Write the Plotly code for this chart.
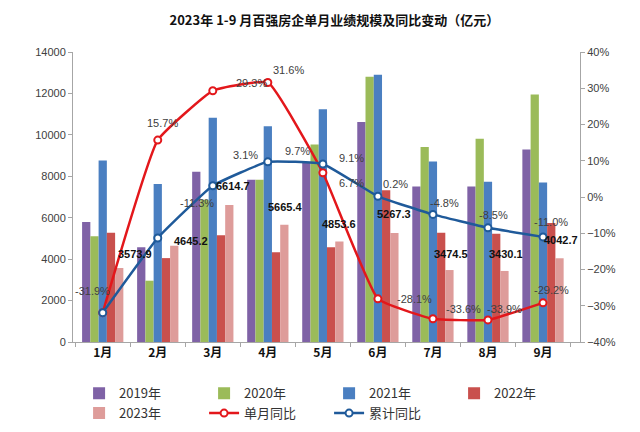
import plotly.graph_objects as go

months = ["1月", "2月", "3月", "4月", "5月", "6月", "7月", "8月", "9月"]
v2019 = [5790, 4570, 8220, 7830, 8650, 10620, 7510, 7510, 9290]
v2020 = [5110, 2960, 6870, 7830, 9540, 12810, 9410, 9810, 11950]
v2021 = [8760, 7630, 10820, 10410, 11240, 12900, 8710, 7740, 7700]
v2022 = [5270, 4050, 5150, 4330, 4570, 7330, 5270, 5220, 5740]
v2023 = [3573.9, 4645.2, 6614.7, 5665.4, 4853.6, 5267.3, 3474.5, 3430.1, 4042.7]
monthly_yoy = [-31.9, 15.7, 29.3, 31.6, 6.7, -28.1, -33.6, -33.9, -29.2]
cumulative_yoy = [-31.9, -11.3, 3.1, 9.7, 9.1, 0.2, -4.8, -8.5, -11.0]

FONT = "Liberation Sans, Arial, Noto Sans CJK SC"
CJK = "Noto Sans CJK SC, Liberation Sans"

fig = go.Figure()
bar_specs = [
    ("2019年", v2019, "#7F62A6"),
    ("2020年", v2020, "#9BBB59"),
    ("2021年", v2021, "#4A7FC1"),
    ("2022年", v2022, "#C9504D"),
    ("2023年", v2023, "#DE9C9A"),
]
for name, vals, col in bar_specs:
    fig.add_trace(go.Bar(x=months, y=vals, name=name, marker_color=col,
                         marker_line_width=0))

fig.add_trace(go.Scatter(x=months, y=monthly_yoy, name="单月同比", yaxis="y2",
                         mode="lines+markers", line=dict(color="#E3171B", width=2.5, shape="spline", smoothing=0.35),
                         marker=dict(symbol="circle", size=7, color="white",
                                     line=dict(color="#E3171B", width=2))))
fig.add_trace(go.Scatter(x=months, y=cumulative_yoy, name="累计同比", yaxis="y2",
                         mode="lines+markers", line=dict(color="#1F5A9A", width=2.5, shape="spline", smoothing=0.35),
                         marker=dict(symbol="circle", size=7, color="white",
                                     line=dict(color="#1F5A9A", width=2))))

annotations = []
# offsets (style) for labels
red_off = [(-10, 22), (5, 17), (39, 8), (21, 12), (29, -10), (37, 0), (31, 10), (17, 11), (8, 13)]
blue_off = [None, (39, 35), (33, 31), (30, 11), (29, 6), (18, 12), (12, 11), (6, 13), (8, 15)]
bar_off = [(32, 14), (33, 5), (20, 19), (18, 18), (16, 17), (16, 19), (18, 16), (18, 17), (18, 18)]

for m, v, o in zip(months, monthly_yoy, red_off):
    annotations.append(dict(x=m, y=v, yref="y2", xref="x", text=f"{v:.1f}%",
                            showarrow=False, xshift=o[0], yshift=o[1],
                            font=dict(size=11, color="#404040", family=FONT)))
for m, v, o in zip(months, cumulative_yoy, blue_off):
    if o is None:
        continue
    annotations.append(dict(x=m, y=v, yref="y2", xref="x", text=f"{v:.1f}%",
                            showarrow=False, xshift=o[0], yshift=o[1],
                            font=dict(size=11, color="#404040", family=FONT)))
for m, v, o in zip(months, v2023, bar_off):
    annotations.append(dict(x=m, y=v, yref="y", xref="x", text=f"<b>{v:.1f}</b>",
                            showarrow=False, xshift=o[0], yshift=o[1],
                            font=dict(size=11, color="#111111", family=FONT)))

fig.update_layout(
    width=640, height=432,
    paper_bgcolor="white", plot_bgcolor="white",
    margin=dict(l=65, r=68, t=44, b=92),
    title=dict(text="<b>2023年 1-9 月百强房企单月业绩规模及同比变动（亿元）</b>",
               x=0.51, xanchor="center", y=0.972, yanchor="middle",
               font=dict(size=13, color="#111111", family=CJK)),
    barmode="group", bargap=0.25, bargroupgap=0,
    showlegend=True,
    legend=dict(orientation="h", x=0.012, xanchor="left",
                y=-0.125, yanchor="top",
                entrywidth=80, entrywidthmode="pixels",
                font=dict(size=13, color="#333333", family=CJK),
                bgcolor="rgba(0,0,0,0)"),
    xaxis=dict(showline=True, linecolor="#A6A6A6", linewidth=1, ticks="outside",
               tickson="boundaries", ticklen=4, tickcolor="#A6A6A6",
               tickfont=dict(size=12, color="#111111", family=CJK),
               tickprefix="<b>", ticksuffix="</b>", showgrid=False),
    yaxis=dict(range=[0, 14000], dtick=2000, tickformat="d", showline=True, linecolor="#A6A6A6",
               ticks="outside", ticklen=4, tickcolor="#A6A6A6", showgrid=False,
               zeroline=False, tickfont=dict(size=11, color="#404040", family=FONT)),
    yaxis2=dict(range=[-40, 40], dtick=10, overlaying="y", side="right",
                showline=True, linecolor="#A6A6A6", ticks="outside", ticklen=4,
                tickcolor="#A6A6A6", showgrid=False, zeroline=False, ticksuffix="%",
                tickfont=dict(size=11, color="#404040", family=FONT)),
    annotations=annotations,
)

fig.write_html("out.html")
